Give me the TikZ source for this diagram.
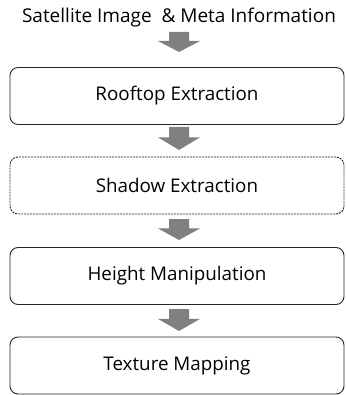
\documentclass[tikz,border=0pt]{standalone}
\usepackage{fontspec}
\setmainfont{Open Sans}
\usetikzlibrary{calc}
\begin{document}
\begin{tikzpicture}[x=1pt,y=-1pt,
  stepbox/.style={draw=black!85, line width=0.9pt, rounded corners=8pt, minimum width=334pt, minimum height=57pt, inner sep=0pt, font=\fontsize{18.8}{20}\selectfont},
  flowarrow/.style={fill=black!50, draw=none},
]
\useasboundingbox (0,0) rectangle (345,395);
\node[font=\fontsize{19}{20}\selectfont] (title) at (179,18) {Satellite Image~~\& Meta Information};
\node[stepbox] (b1) at (177,96) {Rooftop Extraction};
\node[stepbox, dash pattern=on 2pt off 1pt] (b2) at (177,185.5) {Shadow Extraction};
\node[stepbox] (b3) at (177,276) {Height Manipulation};
\node[stepbox] (b4) at (177,365.5) {Texture Mapping};
\newcommand{\grayarrow}[2]{%
  \fill[flowarrow] ($(#1)+(-10,0)$) -- ($(#1)+(10,0)$) -- ($(#1)+(10,#2*0.45)$) -- ($(#1)+(21,#2*0.45)$) -- ($(#1)+(0,#2)$) -- ($(#1)+(-21,#2*0.45)$) -- ($(#1)+(-10,#2*0.45)$) -- cycle;}
\coordinate (a1) at (179,32);
\coordinate (a2) at (179,127);
\coordinate (a3) at (179,219);
\coordinate (a4) at (179,309);
\grayarrow{a1}{20}
\grayarrow{a2}{23}
\grayarrow{a3}{21}
\grayarrow{a4}{22}
\end{tikzpicture}
\end{document}
